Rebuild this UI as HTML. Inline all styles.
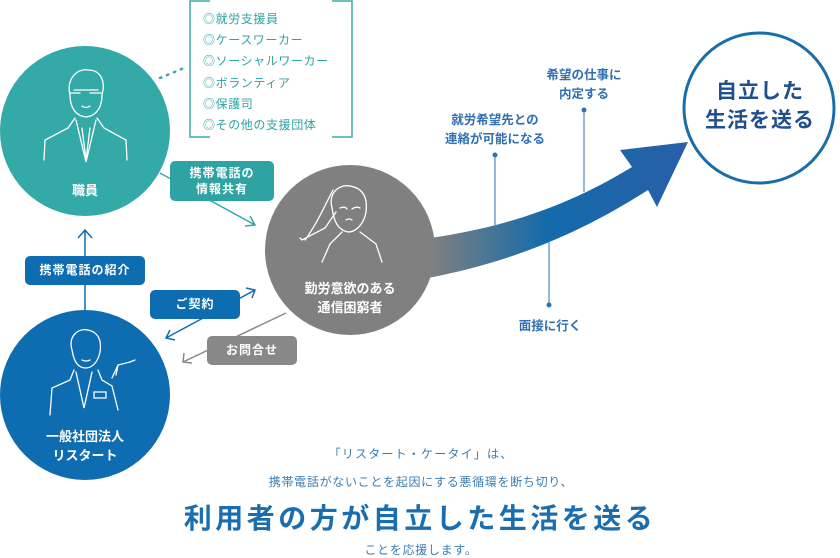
<!DOCTYPE html>
<html><head><meta charset="utf-8"><style>
body{margin:0;width:840px;height:557px;overflow:hidden;background:#fff;font-family:"Liberation Sans","Noto Sans CJK JP",sans-serif;}
.t{position:absolute;white-space:nowrap;}
.c{text-align:center;transform:translateX(-50%);}
.box{position:absolute;color:#fff;font-size:12px;font-weight:bold;text-align:center;border-radius:5px;letter-spacing:1px;}
</style></head><body>
<svg width="840" height="557" style="position:absolute;left:0;top:0">
<defs>
<linearGradient id="g" x1="430" y1="0" x2="690" y2="0" gradientUnits="userSpaceOnUse">
<stop offset="0" stop-color="#808080"/><stop offset="0.45" stop-color="#136bab"/><stop offset="1" stop-color="#2a5ea8"/></linearGradient>
</defs>
<path d="M210 1 H190 V137 H210 M332 1 H352 V137 H332" fill="none" stroke="#40aaa9" stroke-width="1.5"/>
<path d="M160 78 L184 68" stroke="#40aaa9" stroke-width="2.5" stroke-dasharray="1.5 6" stroke-linecap="round"/>
<path d="M430 238 C500 228 565 208 632 167 L620 150 L688 142 L657 207 L648 190 C570 240 500 264 428 278 Z" fill="url(#g)"/>
<g stroke="#2f72b4" stroke-width="1" fill="#2f72b4">
<line x1="495" y1="155" x2="495" y2="225"/><circle cx="495" cy="155" r="2"/>
<line x1="584" y1="110" x2="584" y2="192"/><circle cx="584" cy="110" r="2"/>
<line x1="549" y1="240" x2="549" y2="305"/><circle cx="549" cy="305" r="2"/>
</g>
<circle cx="85" cy="131" r="85" fill="#33a9a8"/>
<circle cx="350" cy="250" r="85" fill="#808080"/>
<circle cx="85" cy="395" r="85" fill="#0e6cb0"/>
<circle cx="759" cy="108" r="75" fill="#fff" stroke="#1a6ea8" stroke-width="3"/>
<path d="M160 173 L255 225 M245 226 L255 225 L250 216" stroke="#33a9a8" stroke-width="1.5" fill="none"/>
<path d="M85 310 V230 M78 238 L85 230 L92 238" stroke="#0e6cb0" stroke-width="1.5" fill="none"/>
<path d="M166 338 L255 290 M246 288 L255 290 L252 298 M175 340 L166 338 L170 330" stroke="#0e6cb0" stroke-width="1.5" fill="none"/>
<path d="M286 313 L183 362 M184 353 L183 362 L192 363" stroke="#888" stroke-width="1.5" fill="none"/>
<g stroke="#fff" stroke-width="1.3" fill="none" stroke-linecap="round">
<path d="M70 95 C66 78 78 68 88 70 C100 70 106 80 102 95 C102 108 96 116 86 117 C76 116 70 108 70 95 Z"/>
<path d="M70 93 H80 M90 93 H102 M74 90 H98"/>
<path d="M82 106 Q86 109 90 106"/>
<path d="M75 118 L68 128 L45 140 L44 160 M97 118 L104 128 L126 140 L127 160 M76 120 L86 162 L96 120 M82 128 L86 160 L90 128"/>
<path d="M332 208 C328 192 340 184 350 186 C362 188 368 196 366 212 C364 224 356 232 348 232 C338 230 334 222 332 208 Z"/>
<path d="M340 208 Q345 206 347 209 M352 209 Q356 206 360 208 M346 220 Q349 218 352 220"/>
<path d="M336 212 L325 228 L302 240 L300 238 M333 190 C325 205 318 222 305 240 M342 232 L330 244 L322 262 M360 232 L376 244 L382 262"/>
<path d="M72 350 C68 336 78 328 88 330 C98 332 102 340 100 352 C98 362 92 368 86 368 C78 368 74 362 72 350 Z"/>
<path d="M82 360 Q86 362 90 360"/>
<path d="M74 370 L70 380 L52 388 L50 415 M98 370 L102 380 L112 386 L118 410 M76 372 L84 408 L92 372 M94 392 H106 V398 H94 Z"/>
<path d="M112 378 L118 365 L130 362 L135 360 M118 365 L116 375"/>
</g>
</svg>
<div class="t" style="left:203px;top:9px;font-size:12px;line-height:21.2px;color:#2ea3a3;letter-spacing:0.6px">◎就労支援員<br>◎ケースワーカー<br>◎ソーシャルワーカー<br>◎ボランティア<br>◎保護司<br>◎その他の支援団体</div>
<div class="t c" style="left:85px;top:180px;font-size:13px;color:#fff;font-weight:bold">職員</div>
<div class="t c" style="left:350px;top:279px;font-size:13px;color:#fff;font-weight:bold;line-height:19px;text-align:center">勤労意欲のある<br>通信困窮者</div>
<div class="t c" style="left:85px;top:427px;font-size:13px;color:#fff;font-weight:bold;line-height:19px;text-align:center">一般社団法人<br>リスタート</div>
<div class="t c" style="left:760px;top:77px;font-size:21px;color:#1f4f8f;font-weight:bold;line-height:29px;text-align:center;letter-spacing:1px">自立した<br>生活を送る</div>
<div class="box" style="left:170px;top:161px;width:104px;height:40px;line-height:16px;padding-top:4px;box-sizing:border-box;background:#2ea3a3">携帯電話の<br>情報共有</div>
<div class="box" style="left:25px;top:256px;width:120px;height:29px;line-height:29px;background:#0e6cb0">携帯電話の紹介</div>
<div class="box" style="left:150px;top:290px;width:90px;height:29px;line-height:29px;background:#0e6cb0">ご契約</div>
<div class="box" style="left:207px;top:336px;width:90px;height:29px;line-height:29px;background:#888">お問合せ</div>
<div class="t c" style="left:495px;top:111px;font-size:12.5px;font-weight:bold;color:#2f6fb2;line-height:19px;text-align:center">就労希望先との<br>連絡が可能になる</div>
<div class="t c" style="left:584px;top:66px;font-size:12.5px;font-weight:bold;color:#2f6fb2;line-height:19px;text-align:center">希望の仕事に<br>内定する</div>
<div class="t c" style="left:550px;top:315px;font-size:12.5px;font-weight:bold;color:#2f6fb2">面接に行く</div>
<div class="t c" style="left:421px;top:445px;font-size:12px;color:#3a7db5;letter-spacing:1.2px">「リスタート・ケータイ」は、</div>
<div class="t c" style="left:421px;top:473px;font-size:12px;color:#3a7db5;letter-spacing:0.7px">携帯電話がないことを起因にする悪循環を断ち切り、</div>
<div class="t c" style="left:420px;top:497px;font-size:28px;font-weight:bold;color:#1a6eb0;letter-spacing:3.5px">利用者の方が自立した生活を送る</div>
<div class="t c" style="left:421px;top:541px;font-size:12px;color:#3a7db5;letter-spacing:0.7px">ことを応援します。</div>
</body></html>
